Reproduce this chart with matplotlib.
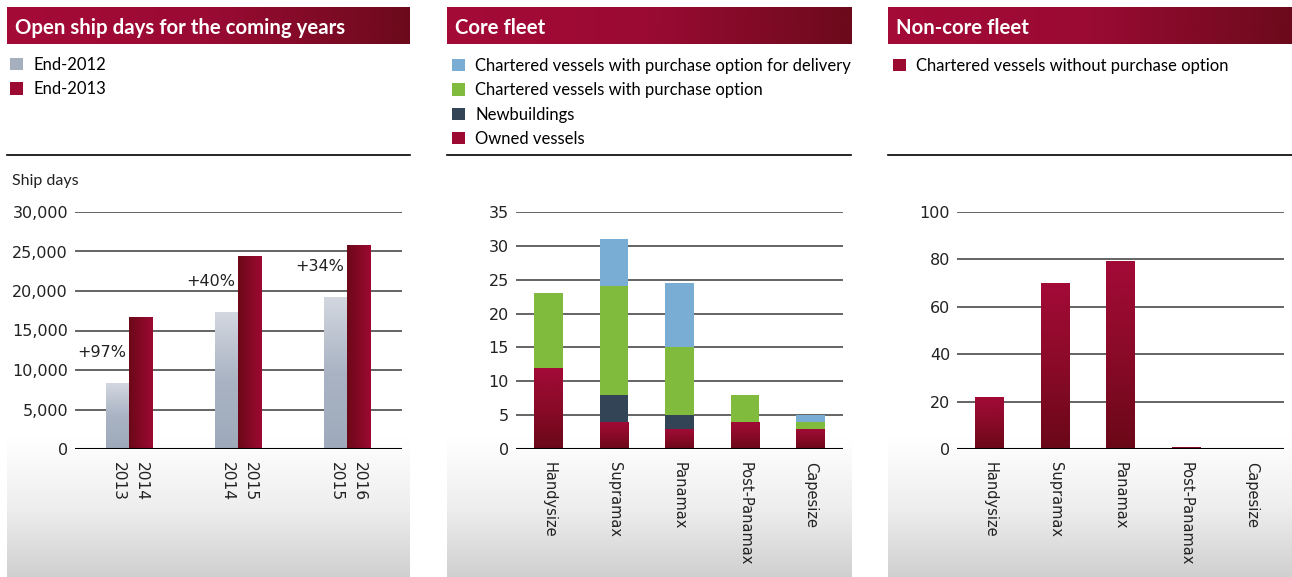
import numpy as np
import matplotlib
matplotlib.use("Agg")
import matplotlib.pyplot as plt
from matplotlib.colors import LinearSegmentedColormap
from matplotlib.lines import Line2D

# ---------------- data ----------------
periods = ["2013", "2014", "2015"]
periods_next = ["2014", "2015", "2016"]
end_2012 = [8300, 17300, 19200]
end_2013 = [16700, 24400, 25800]
growth_labels = ["+97%", "+40%", "+34%"]

classes = ["Handysize", "Supramax", "Panamax", "Post-Panamax", "Capesize"]
owned = [12, 4, 3, 4, 3]
newbuildings = [0, 4, 2, 0, 0]
chartered_option = [11, 16, 10, 4, 1]
chartered_option_delivery = [0, 7, 9.5, 0, 1]
noncore_chartered = [22, 70, 79.5, 1, 0]

left_yticks = [0, 5000, 10000, 15000, 20000, 25000, 30000]
mid_yticks = [0, 5, 10, 15, 20, 25, 30, 35]
right_yticks = [0, 20, 40, 60, 80, 100]

# ---------------- style ----------------
W, H = 1292, 577
fig = plt.figure(figsize=(W / 100, H / 100), dpi=100)
fig.patch.set_facecolor("white")

CHART_FONT = "DejaVu Sans"
TEXT_FONT = "Lato"
TXT = "#222222"

RED_V = LinearSegmentedColormap.from_list("redv", ["#6a0818", "#8a0a28", "#a30a37"])
RED_H = LinearSegmentedColormap.from_list("redh", ["#6c0818", "#9c0a32"])
GRAY_V = LinearSegmentedColormap.from_list("grayv", ["#9eaabb", "#a9b3c3", "#d3d8e0"])
TITLE_H = LinearSegmentedColormap.from_list("title", ["#a50b37", "#9a0a33", "#6c0a1c"])
BG_V = LinearSegmentedColormap.from_list("bg", ["#d0d0d0", "#eeeeee", "#ffffff", "#ffffff"])

BLUE = "#7aadd3"
GREEN = "#80bb3e"
NAVY = "#324455"
RED = "#9c0a32"
GRAY = "#a5afbe"


def rect(x0, y0, x1, y1):
    return [x0 / W, 1 - y1 / H, (x1 - x0) / W, (y1 - y0) / H]


def gradient_bars(ax, bars, cmap, horizontal=False):
    for b in bars:
        x, y = b.get_x(), b.get_y()
        w, h = b.get_width(), b.get_height()
        if h <= 0:
            continue
        g = np.linspace(0, 1, 256)
        grad = g.reshape(1, -1) if horizontal else g.reshape(-1, 1)
        im = ax.imshow(grad, extent=[x, x + w, y, y + h], origin="lower",
                       cmap=cmap, aspect="auto", zorder=b.get_zorder() + 0.1,
                       interpolation="bilinear")
        im.set_clip_path(b)


panels = [(7, 410), (447, 851), (888, 1292)]
titles = ["Open ship days for the coming years", "Core fleet", "Non-core fleet"]

# panel backgrounds, title bars, separator lines
for (x0, x1), title in zip(panels, titles):
    bg = fig.add_axes(rect(x0, 370, x1, H), zorder=0)
    bg.imshow(np.linspace(0, 1, 256).reshape(-1, 1), origin="lower", cmap=BG_V,
              aspect="auto", extent=[0, 1, 0, 1])
    bg.set_axis_off()
    tb = fig.add_axes(rect(x0, 7, x1, 44), zorder=1)
    tb.imshow(np.linspace(0, 1, 256).reshape(1, -1), cmap=TITLE_H, aspect="auto",
              extent=[0, 1, 0, 1])
    tb.set_axis_off()
    fig.text((x0 + 8) / W, 1 - 27.5 / H, title, color="white", fontsize=14.7,
             fontweight="bold", family=TEXT_FONT, va="center", ha="left")
    fig.add_artist(Line2D([x0 / W, x1 / W], [1 - 155.5 / H] * 2, color="black",
                          lw=1.2, transform=fig.transFigure))


def style_axis(ax, yticks, ylim, fmt=None, xsize=10.5):
    ax.set_facecolor("none")
    ax.set_ylim(*ylim)
    ax.set_yticks(yticks)
    if fmt:
        ax.set_yticklabels([fmt(v) for v in yticks])
    for s in ax.spines.values():
        s.set_visible(False)
    ax.tick_params(axis="both", length=0, colors=TXT)
    ax.tick_params(axis="y", pad=5, labelsize=11.5)
    ax.tick_params(axis="x", pad=9, labelsize=xsize)
    for v in yticks[1:]:
        ax.axhline(v, color="#3a3a3a", lw=1.1, zorder=0.5)
    ax.axhline(0, color="black", lw=2.2, zorder=5)
    for lab in ax.get_xticklabels() + ax.get_yticklabels():
        lab.set_family(CHART_FONT)


LEG = dict(loc="upper left", frameon=False, prop={"family": TEXT_FONT, "size": 12},
           handlelength=0.75, handleheight=0.75, handletextpad=0.65,
           labelspacing=0.5, borderaxespad=0, borderpad=0)

# ---------------- left panel ----------------
axL = fig.add_axes(rect(75, 212, 402, 449), zorder=2)
xg = np.arange(len(periods))
off, bw = 0.106, 0.215
b12 = axL.bar(xg - off, end_2012, bw, color=GRAY, label="End-2012", zorder=2)
b13 = axL.bar(xg + off, end_2013, bw, color=RED, label="End-2013", zorder=2)
gradient_bars(axL, b12, GRAY_V)
gradient_bars(axL, b13, RED_H, horizontal=True)
axL.set_xlim(-0.5, 2.5)
style_axis(axL, left_yticks, (0, 30000), fmt=lambda v: f"{v:,}", xsize=11.2)
axL.set_xticks(list(xg - off) + list(xg + off))
axL.set_xticklabels(periods + periods_next, rotation=-90, va="top", ha="center",
                    family=CHART_FONT)
for x, v, t in zip(xg - off, end_2012, growth_labels):
    axL.annotate(t, (x, v), xytext=(-11.5, 22), textcoords="offset points",
                 ha="center", va="center", fontsize=11.5, color=TXT,
                 family=CHART_FONT, zorder=6)
fig.legend(handles=[b12, b13], labels=["End-2012", "End-2013"],
           bbox_to_anchor=(10 / W, 1 - 57 / H), **LEG)
fig.text(12 / W, 1 - 180.5 / H, "Ship days", fontsize=11.5, family=TEXT_FONT,
         color=TXT, va="center", ha="left")

# ---------------- middle panel ----------------
axM = fig.add_axes(rect(516, 212, 843, 449), zorder=2)
xc = np.arange(len(classes))
cw = 0.44
bot = np.zeros(len(classes))
bo = axM.bar(xc, owned, cw, bottom=bot, color=RED, zorder=2)
bot = bot + np.array(owned)
bn = axM.bar(xc, newbuildings, cw, bottom=bot, color=NAVY, zorder=2)
bot = bot + np.array(newbuildings)
bg_ = axM.bar(xc, chartered_option, cw, bottom=bot, color=GREEN, zorder=2)
bot = bot + np.array(chartered_option)
bb = axM.bar(xc, chartered_option_delivery, cw, bottom=bot, color=BLUE, zorder=2)
gradient_bars(axM, bo, RED_V)
axM.set_xlim(-0.5, 4.5)
style_axis(axM, mid_yticks, (0, 35))
axM.set_xticks(xc)
axM.set_xticklabels(classes, rotation=-90, va="top", ha="center", family=CHART_FONT)
fig.legend(handles=[bb, bg_, bn, bo],
           labels=["Chartered vessels with purchase option for delivery",
                   "Chartered vessels with purchase option", "Newbuildings",
                   "Owned vessels"],
           bbox_to_anchor=(452 / W, 1 - 58 / H), **LEG)

# ---------------- right panel ----------------
axR = fig.add_axes(rect(957, 212, 1284, 449), zorder=2)
br = axR.bar(xc, noncore_chartered, cw, color=RED, zorder=2)
gradient_bars(axR, br, RED_V)
axR.set_xlim(-0.5, 4.5)
style_axis(axR, right_yticks, (0, 100))
axR.set_xticks(xc)
axR.set_xticklabels(classes, rotation=-90, va="top", ha="center", family=CHART_FONT)
fig.legend(handles=[br], labels=["Chartered vessels without purchase option"],
           bbox_to_anchor=(893 / W, 1 - 58 / H), **LEG)

fig.savefig("out.png", dpi=100)
